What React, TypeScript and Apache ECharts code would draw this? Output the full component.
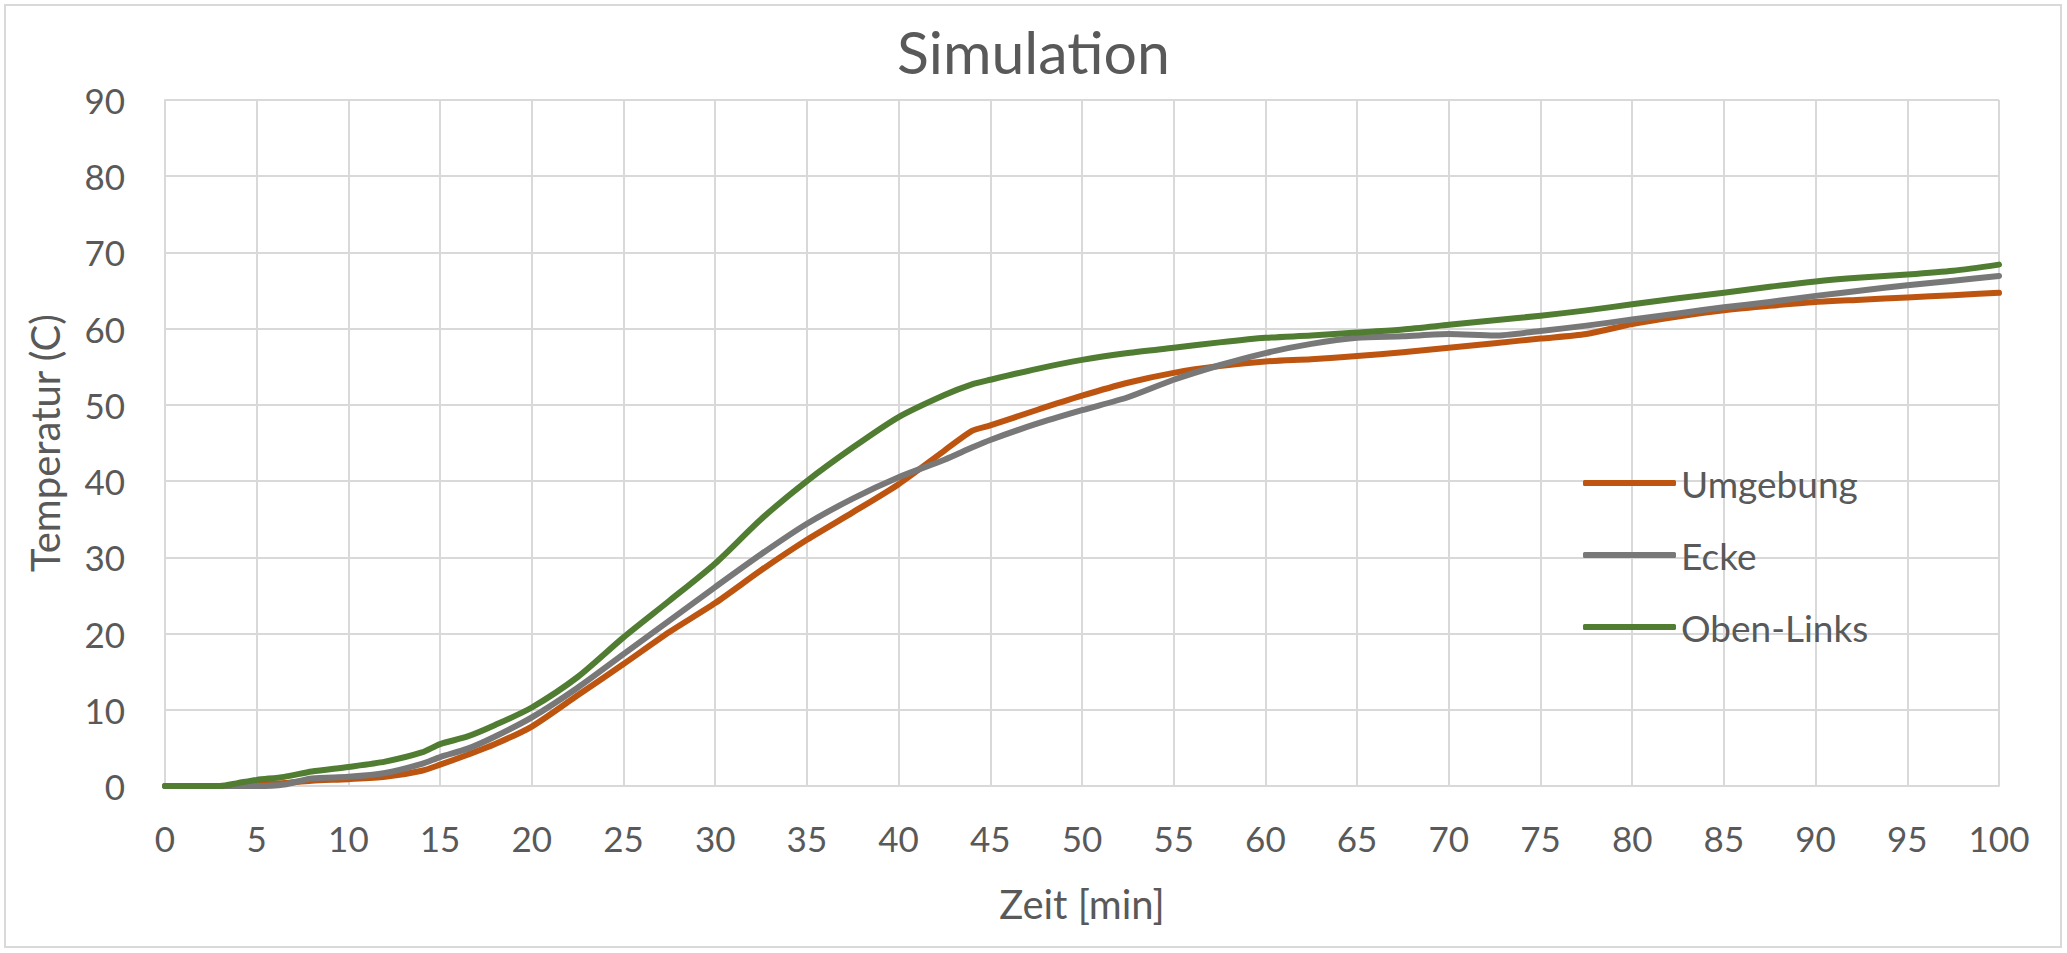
import React, { useEffect, useRef } from "react";
import * as echarts from "echarts";

const timeMin = [0, 3, 4, 5, 6.5, 8, 10, 12, 14, 15, 16.5, 18, 20, 22.5, 25, 27.5, 30, 32.5, 35, 37.5, 40, 42.5, 44, 45, 47.5, 50, 52.5, 55, 57.5, 60, 62.5, 65, 67.5, 70, 72.5, 75, 77.5, 80, 82.5, 85, 87.5, 90, 92.5, 95, 97.5, 100];

const umgebung = [0, 0, 0, 0.2, 0.4, 0.7, 0.9, 1.2, 2.0, 2.8, 4.1, 5.5, 7.8, 11.9, 16.0, 20.2, 24.0, 28.3, 32.3, 35.9, 39.6, 44.0, 46.6, 47.3, 49.3, 51.2, 52.9, 54.2, 55.1, 55.7, 56.0, 56.4, 56.9, 57.5, 58.1, 58.7, 59.3, 60.6, 61.6, 62.4, 63.0, 63.5, 63.8, 64.1, 64.4, 64.7];

const ecke = [0, 0, 0, 0, 0.2, 1.0, 1.2, 1.7, 2.9, 3.8, 4.9, 6.5, 9.0, 12.9, 17.3, 21.7, 26.1, 30.4, 34.4, 37.7, 40.5, 42.8, 44.4, 45.4, 47.5, 49.3, 51.0, 53.3, 55.2, 56.8, 58.0, 58.8, 59.0, 59.3, 59.1, 59.7, 60.4, 61.2, 62.0, 62.8, 63.5, 64.3, 65.0, 65.7, 66.3, 66.9];

const obenLinks = [0, 0, 0.4, 0.8, 1.2, 1.9, 2.5, 3.2, 4.4, 5.5, 6.5, 8.0, 10.3, 14.3, 19.5, 24.3, 29.2, 35.0, 40.0, 44.4, 48.4, 51.3, 52.7, 53.3, 54.7, 55.9, 56.8, 57.5, 58.2, 58.8, 59.1, 59.5, 59.9, 60.5, 61.1, 61.7, 62.4, 63.2, 64.0, 64.7, 65.5, 66.2, 66.7, 67.1, 67.6, 68.4];

const seriesNames = ["Umgebung", "Ecke", "Oben-Links"];
const seriesValues = [umgebung, ecke, obenLinks];
const seriesColors = ["#BD5510", "#787878", "#507D32"];

const FONT = "Lato";
const TEXT = "#595959";
const GRID = "#D9D9D9";

export default function App() {
  const ref = useRef<HTMLDivElement>(null);

  useEffect(() => {
    document.body.style.margin = "0";
    if (!ref.current) return;
    const chart = echarts.init(ref.current, null, { renderer: "svg" });
    const series = seriesNames.map((name, i) => ({
      name,
      type: "line",
      data: timeMin.map((t, j) => [t, seriesValues[i][j]]),
      showSymbol: false,
      symbol: "none",
      smooth: 0.25,
      lineStyle: { color: seriesColors[i], width: 6, cap: "round", join: "round" },
      itemStyle: { color: seriesColors[i] },
    }));
    chart.setOption({
      animation: false,
      backgroundColor: "#FFFFFF",
      textStyle: { fontFamily: FONT, color: TEXT },
      title: {
        text: "Simulation",
        left: "center",
        top: 17,
        textStyle: { fontFamily: FONT, fontSize: 59, fontWeight: "normal", color: TEXT },
      },
      graphic: [
        {
          type: "rect",
          shape: { x: 5, y: 5, width: 2056, height: 942 },
          style: { fill: "none", stroke: GRID, lineWidth: 2 },
          silent: true,
        },
      ],
      legend: {
        orient: "vertical",
        left: 1578,
        top: 459,
        itemWidth: 93,
        itemHeight: 6,
        itemGap: 34,
        icon: "roundRect",
        data: seriesNames,
        textStyle: { fontFamily: FONT, fontSize: 37, lineHeight: 38, color: TEXT },
      },
      grid: { left: 165, right: 68, top: 100, bottom: 167, containLabel: false },
      xAxis: {
        type: "value",
        min: 0,
        max: 100,
        interval: 5,
        name: "Zeit [min]",
        nameLocation: "middle",
        nameGap: 98,
        nameTextStyle: { fontFamily: FONT, fontSize: 40, color: TEXT },
        axisLine: { show: true, lineStyle: { color: GRID, width: 2 } },
        axisTick: { show: false },
        axisLabel: { fontFamily: FONT, fontSize: 35, color: TEXT, margin: 34 },
        splitLine: { show: true, lineStyle: { color: GRID, width: 2 } },
      },
      yAxis: {
        type: "value",
        min: 0,
        max: 90,
        interval: 10,
        name: "Temperatur (C)",
        nameLocation: "middle",
        nameGap: 100,
        nameTextStyle: { fontFamily: FONT, fontSize: 40, color: TEXT },
        axisLine: { show: true, lineStyle: { color: GRID, width: 2 } },
        axisTick: { show: false },
        axisLabel: { fontFamily: FONT, fontSize: 35, color: TEXT, margin: 40 },
        splitLine: { show: true, lineStyle: { color: GRID, width: 2 } },
      },
      series,
    });
    return () => chart.dispose();
  }, []);

  return <div ref={ref} style={{ width: 2067, height: 953 }} />;
}
